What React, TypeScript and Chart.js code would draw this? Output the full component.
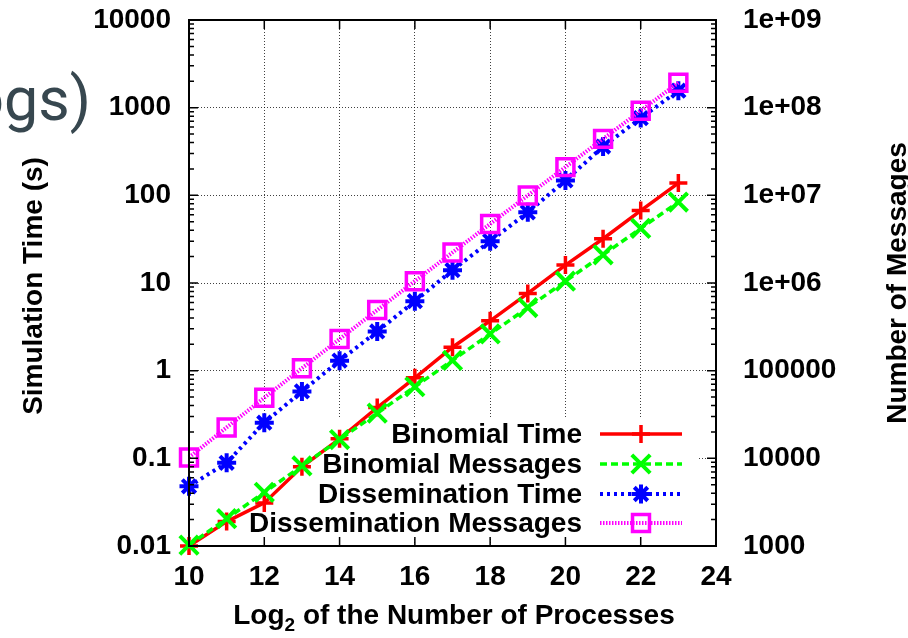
import React, { useEffect, useRef } from 'react';
import { Chart, registerables } from 'chart.js';
import { drawPoint } from 'chart.js/helpers';

Chart.register(...registerables);

// ---- data ----
const processLog2 = [10, 11, 12, 13, 14, 15, 16, 17, 18, 19, 20, 21, 22, 23];
const binomialTime = [0.01, 0.019, 0.031, 0.08, 0.167, 0.38, 0.83, 1.85, 3.7, 7.6, 16, 32, 67, 138];
const binomialMessages = [1024, 2048, 4096, 8192, 16384, 32768, 65536, 131072, 262144, 524288, 1048576, 2097152, 4194304, 8388608];
const disseminationTime = [0.048, 0.089, 0.255, 0.58, 1.3, 2.8, 6.2, 14, 30, 64, 148, 360, 760, 1560];
const disseminationMessages = [10240, 22528, 49152, 106496, 229376, 491520, 1048576, 2228224, 4718592, 9961472, 20971520, 44040192, 92274688, 192937984];

const xTicks = [10, 12, 14, 16, 18, 20, 22, 24];
const leftTicks = [0.01, 0.1, 1, 10, 100, 1000, 10000];
const leftTickLabels = ['0.01', '0.1', '1', '10', '100', '1000', '10000'];
const rightTicks = [1e3, 1e4, 1e5, 1e6, 1e7, 1e8, 1e9];
const rightTickLabels = ['1000', '10000', '100000', '1e+06', '1e+07', '1e+08', '1e+09'];

const seriesLabels = ['Binomial Time', 'Binomial Messages', 'Dissemination Time', 'Dissemination Messages'];

const FAMILY = '"Liberation Sans", Arial, Helvetica, sans-serif';
const FONT = { family: FAMILY, size: 28, weight: 'bold' as const, lineHeight: 1.2 };

const toPoints = (ys: number[]) => processLog2.map((x, i) => ({ x, y: ys[i] }));

const noPad = (s: any) => {
  s.paddingTop = 0;
  s.paddingBottom = 0;
  s.paddingLeft = 0;
  s.paddingRight = 0;
};

const decorPlugin = {
  id: 'decor',
  beforeDatasetsDraw(chart: any) {
    const ctx = chart.ctx;
    ctx.save();
    ctx.fillStyle = '#ffffff';
    ctx.fillRect(191, 418, 506, 119);
    ctx.restore();
  },
  afterDraw(chart: any) {
    const ctx: CanvasRenderingContext2D = chart.ctx;
    const area = chart.chartArea;
    const xs = chart.scales.x;
    const yl = chart.scales.y;
    const yr = chart.scales.y2;
    ctx.save();
    // ticks (inward)
    ctx.strokeStyle = '#000';
    ctx.lineWidth = 1.5;
    ctx.setLineDash([]);
    ctx.beginPath();
    xTicks.forEach((v) => {
      const px = xs.getPixelForValue(v);
      ctx.moveTo(px, area.bottom);
      ctx.lineTo(px, area.bottom - 9);
      ctx.moveTo(px, area.top);
      ctx.lineTo(px, area.top + 9);
    });
    const drawLogTicks = (scale: any, x0: number, dir: number, ticks: number[]) => {
      for (let d = 0; d < ticks.length; d++) {
        const base = ticks[d];
        const py = scale.getPixelForValue(base);
        ctx.moveTo(x0, py);
        ctx.lineTo(x0 + dir * 9, py);
        if (d < ticks.length - 1) {
          for (let k = 2; k <= 9; k++) {
            const pm = scale.getPixelForValue(base * k);
            ctx.moveTo(x0, pm);
            ctx.lineTo(x0 + dir * 5, pm);
          }
        }
      }
    };
    drawLogTicks(yl, area.left, 1, leftTicks);
    drawLogTicks(yr, area.right, -1, rightTicks);
    ctx.stroke();
    // frame
    ctx.lineWidth = 2;
    ctx.strokeRect(area.left, area.top, area.right - area.left, area.bottom - area.top);

    // legend
    const rowY = [434, 464, 494, 523];
    chart.data.datasets.forEach((ds: any, i: number) => {
      const y = rowY[i];
      ctx.fillStyle = '#000';
      ctx.font = `bold 28px ${FAMILY}`;
      ctx.textAlign = 'right';
      ctx.textBaseline = 'middle';
      ctx.fillText(ds.label, 582, y + 1);
      ctx.strokeStyle = ds.borderColor;
      ctx.lineWidth = ds.borderWidth;
      ctx.setLineDash(ds.borderDash || []);
      ctx.beginPath();
      ctx.moveTo(600, y);
      ctx.lineTo(682, y);
      ctx.stroke();
      ctx.setLineDash([]);
      ctx.strokeStyle = ds.pointBorderColor;
      ctx.fillStyle = 'rgba(0,0,0,0)';
      ctx.lineWidth = ds.pointBorderWidth;
      drawPoint(ctx, { pointStyle: ds.pointStyle, radius: ds.pointRadius, rotation: 0, borderWidth: ds.pointBorderWidth } as any, 641, y);
    });

    // axis titles
    ctx.fillStyle = '#000';
    ctx.font = `bold 28px ${FAMILY}`;
    ctx.textBaseline = 'alphabetic';
    ctx.textAlign = 'center';
    ctx.save();
    ctx.translate(42, (area.top + area.bottom) / 2 + 3);
    ctx.rotate(-Math.PI / 2);
    ctx.fillText('Simulation Time (s)', 0, 0);
    ctx.restore();
    ctx.save();
    ctx.translate(906, (area.top + area.bottom) / 2);
    ctx.rotate(-Math.PI / 2);
    ctx.fillText('Number of Messages', 0, 0);
    ctx.restore();

    // x title with subscript
    const p1 = 'Log';
    const p2 = '2';
    const p3 = ' of the Number of Processes';
    ctx.textAlign = 'left';
    ctx.font = `bold 28px ${FAMILY}`;
    const w1 = ctx.measureText(p1).width;
    const w3 = ctx.measureText(p3).width;
    ctx.font = `bold 19px ${FAMILY}`;
    const w2 = ctx.measureText(p2).width;
    const total = w1 + w2 + w3;
    let x = 454 - total / 2;
    const base = 624;
    ctx.font = `bold 28px ${FAMILY}`;
    ctx.fillText(p1, x, base);
    x += w1;
    ctx.font = `bold 19px ${FAMILY}`;
    ctx.fillText(p2, x, base + 7);
    x += w2;
    ctx.font = `bold 28px ${FAMILY}`;
    ctx.fillText(p3, x, base);

    // partial slide title peeking from the left
    ctx.font = `400 61px Roboto, "Open Sans", sans-serif`;
    ctx.fillStyle = '#37474f';
    ctx.textAlign = 'right';
    ctx.fillText('Logs)', 91, 120);
    ctx.restore();
  },
};

export default function App() {
  const ref = useRef<HTMLCanvasElement | null>(null);
  useEffect(() => {
    if (!ref.current) return;
    const chart = new Chart(ref.current, {
      type: 'line',
      data: {
        datasets: [
          {
            label: seriesLabels[0],
            data: toPoints(binomialTime),
            yAxisID: 'y',
            borderColor: '#ff0000',
            borderWidth: 3.5,
            borderDash: [],
            pointStyle: 'cross',
            pointRadius: 9,
            pointBorderWidth: 3.5,
            pointBorderColor: '#ff0000',
            pointBackgroundColor: 'rgba(0,0,0,0)',
            order: 4,
            clip: false,
          },
          {
            label: seriesLabels[1],
            data: toPoints(binomialMessages),
            yAxisID: 'y2',
            borderColor: '#00ff00',
            borderWidth: 3.5,
            borderDash: [7, 4],
            pointStyle: 'crossRot',
            pointRadius: 13,
            pointBorderWidth: 4,
            pointBorderColor: '#00ff00',
            pointBackgroundColor: 'rgba(0,0,0,0)',
            order: 3,
            clip: false,
          },
          {
            label: seriesLabels[2],
            data: toPoints(disseminationTime),
            yAxisID: 'y',
            borderColor: '#0000ff',
            borderWidth: 4,
            borderDash: [3, 4],
            pointStyle: 'star',
            pointRadius: 9.5,
            pointBorderWidth: 4,
            pointBorderColor: '#0000ff',
            pointBackgroundColor: 'rgba(0,0,0,0)',
            order: 2,
            clip: false,
          },
          {
            label: seriesLabels[3],
            data: toPoints(disseminationMessages),
            yAxisID: 'y2',
            borderColor: '#ff00ff',
            borderWidth: 4,
            borderDash: [1.5, 1.5],
            pointStyle: 'rect',
            pointRadius: 12,
            pointBorderWidth: 3.5,
            pointBorderColor: '#ff00ff',
            pointBackgroundColor: 'rgba(0,0,0,0)',
            order: 1,
            clip: false,
          },
        ] as any,
      },
      options: {
        animation: false,
        responsive: false,
        maintainAspectRatio: false,
        layout: { padding: { top: 20, left: 0, right: 0, bottom: 0 } },
        elements: { line: { tension: 0 } },
        plugins: { legend: { display: false }, tooltip: { enabled: false } },
        scales: {
          x: {
            type: 'linear',
            position: 'bottom',
            min: 10,
            max: 24,
            afterBuildTicks: (s: any) => { s.ticks = xTicks.map((v) => ({ value: v })); },
            afterFit: (s: any) => { s.height = 92; noPad(s); },
            ticks: { font: FONT, color: '#000', padding: 14, autoSkip: false, maxRotation: 0, callback: (v: any) => String(v) },
            grid: { color: 'rgba(0,0,0,0.75)', lineWidth: 1, drawTicks: false },
            border: { display: false, dash: [1, 2] },
          },
          y: {
            type: 'logarithmic',
            position: 'left',
            min: 0.01,
            max: 10000,
            afterBuildTicks: (s: any) => { s.ticks = leftTicks.map((v) => ({ value: v })); },
            afterFit: (s: any) => { s.width = 189; noPad(s); },
            ticks: { font: FONT, color: '#000', padding: 18, autoSkip: false, callback: (_v: any, i: number) => leftTickLabels[i] },
            grid: { color: 'rgba(0,0,0,0.75)', lineWidth: 1, drawTicks: false },
            border: { display: false, dash: [1, 2] },
          },
          y2: {
            type: 'logarithmic',
            position: 'right',
            min: 1000,
            max: 1e9,
            afterBuildTicks: (s: any) => { s.ticks = rightTicks.map((v) => ({ value: v })); },
            afterFit: (s: any) => { s.width = 192; noPad(s); },
            ticks: { font: FONT, color: '#000', padding: 27, autoSkip: false, callback: (_v: any, i: number) => rightTickLabels[i] },
            grid: { display: false, drawTicks: false },
            border: { display: false },
          },
        },
      } as any,
      plugins: [decorPlugin],
    });
    return () => chart.destroy();
  }, []);
  return (
    <div style={{ position: 'fixed', left: 0, top: 0, width: 908, height: 638, background: '#fff' }}>
      <canvas ref={ref} width={908} height={638} style={{ display: 'block', width: 908, height: 638 }} />
    </div>
  );
}
